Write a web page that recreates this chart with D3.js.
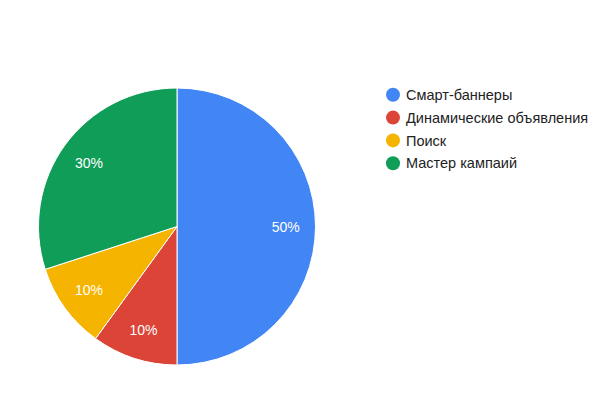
<!DOCTYPE html>
<html><head><meta charset="utf-8">
<script src="https://cdn.jsdelivr.net/npm/d3@7"></script>
<style>body{margin:0;background:#fff;} svg{display:block;}</style>
</head><body>
<svg id="c" width="599" height="413"></svg>
<script>
const categories = ["Смарт-баннеры", "Динамические объявления", "Поиск", "Мастер кампаий"];
const values = [50, 10, 10, 30];
const colors = ["#4285F4", "#DB4437", "#F4B400", "#0F9D58"];

const svg = d3.select("#c");
const cx = 177, cy = 226.5, R = 138.5;
const FONT = "Arial, 'Liberation Sans', sans-serif";
const pie = d3.pie().sort(null).value(d => d.v);
const data = categories.map((c, i) => ({c, v: values[i], col: colors[i]}));
const arcs = pie(data);
const total = d3.sum(values);
const arc = d3.arc().innerRadius(0).outerRadius(R);
const labelArc = d3.arc().innerRadius(R * 0.785).outerRadius(R * 0.785);
const g = svg.append("g").attr("transform", `translate(${cx},${cy})`);
g.selectAll("path").data(arcs).join("path")
  .attr("d", arc).attr("fill", d => d.data.col)
  .attr("stroke", "#fff").attr("stroke-width", 1);
g.selectAll("text").data(arcs).join("text")
  .attr("transform", d => `translate(${labelArc.centroid(d)})`)
  .attr("text-anchor", "middle").attr("dy", "0.36em")
  .attr("fill", "#fff").attr("font-family", FONT).attr("font-size", 14)
  .text(d => d3.format(".0%")(d.data.v / total));

const leg = svg.append("g");
const y = d3.scalePoint().domain(categories).range([94.8, 163.2]);
const items = leg.selectAll("g").data(data).join("g")
  .attr("transform", d => `translate(0,${y(d.c)})`);
items.append("circle").attr("cx", 393).attr("cy", 0).attr("r", 7).attr("fill", d => d.col);
items.append("text").attr("x", 406).attr("dy", "0.36em")
  .attr("font-family", FONT).attr("font-size", 14.5).attr("fill", "#222")
  .text(d => d.c);
</script>
</body></html>
